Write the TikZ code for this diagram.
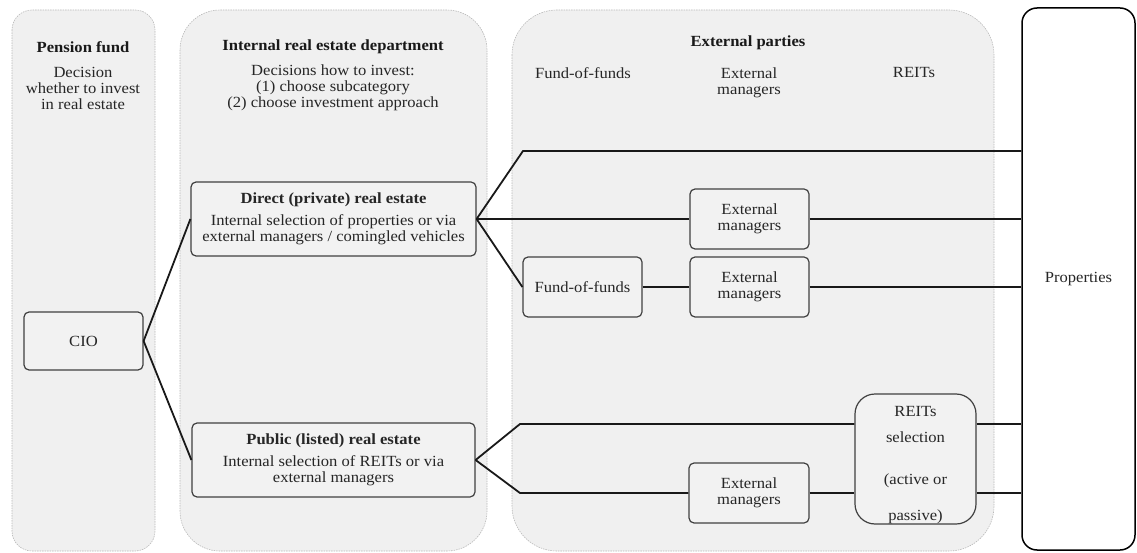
\documentclass[tikz,border=0pt]{standalone}
\usepackage{fontspec}
\setmainfont{Liberation Serif}[FakeStretch=1.07]
\newcommand\mainfs{\fontsize{15.5}{16}\selectfont}
\begin{document}
\begin{tikzpicture}[x=1pt,y=-1pt,
  panel/.style={draw=gray!55, dash pattern=on 1.5pt off 1pt, line width=0.6pt, fill=black!6},
  box/.style={draw=black!75, line width=1.2pt, rounded corners=5pt, fill=black!5, inner sep=0pt, align=center, text=black!85, font=\mainfs},
  txt/.style={align=center, inner sep=0pt, text=black!85, font=\mainfs},
  ttl/.style={align=center, inner sep=0pt, text=black!90, font=\mainfs\bfseries},
  link/.style={line width=1.8pt, black!90}]
\useasboundingbox (0,0) rectangle (1137,553);
% panels
\draw[panel, rounded corners=20pt] (12,10) rectangle (155,551);
\draw[panel, rounded corners=40pt] (180,10) rectangle (487,551);
\draw[panel, rounded corners=45pt] (512,10) rectangle (994,551);
% panel texts
\node[ttl] (pft) at (83,47) {Pension fund};
\node[txt] (pfd) at (83,88) {Decision\\whether to invest\\in real estate};
\node[ttl] (irt) at (333,47) {Internal real estate department};
\node[txt] (ird) at (333,88) {Decisions how to invest:\\(1) choose subcategory\\(2) choose investment approach};
\node[ttl] (ept) at (748,43) {External parties};
\node[txt] (h1) at (583,73) {Fund-of-funds};
\node[txt] (h2) at (749,83) {External\\managers};
\node[txt] (h3) at (914,73) {REITs};
% boxes
\node[box, minimum width=119pt, minimum height=58pt] (cio) at (83.5,341) {CIO};
\node[box, minimum width=285pt, minimum height=74pt] (direct) at (333.5,219)
  {\textbf{Direct (private) real estate}\\[6pt]Internal selection of properties or via\\external managers / comingled vehicles};
\node[box, minimum width=283pt, minimum height=74pt] (public) at (333.5,460)
  {\textbf{Public (listed) real estate}\\[6pt]Internal selection of REITs or via\\external managers};
\node[box, minimum width=119pt, minimum height=60pt] (fof) at (582.5,287) {Fund-of-funds};
\node[box, minimum width=119pt, minimum height=60pt] (em1) at (749.5,219) {External\\managers};
\node[box, minimum width=119pt, minimum height=60pt] (em2) at (749.5,287) {External\\managers};
\node[box, minimum width=120pt, minimum height=60pt] (em3) at (749,493) {External\\managers};
\node[box, rounded corners=20pt, minimum width=121pt, minimum height=130pt] (reits) at (915.5,459)
  {\mbox{}\\[4pt]\raisebox{-2pt}{REITs}\\[12pt]selection\\[26pt](active or\\[20pt]passive)};
\node[draw=black, line width=1.5pt, rounded corners=15pt, fill=white, inner sep=0pt,
  minimum width=113pt, minimum height=542pt, font=\mainfs, text=black!85] (props) at (1078.5,279)
  {\raisebox{-7pt}{Properties}};
% connectors
\coordinate (b1) at (523,151);
\coordinate (b2) at (520,424);
\coordinate (b3) at (520,493);
\draw[link] (cio.east) -- (direct.west);
\draw[link] (cio.east) -- (public.west);
\draw[link] (direct.east) -- (b1) -- (b1 -| props.west);
\draw[link] (direct.east) -- (em1.west);
\draw[link] (em1.east) -- (em1.east -| props.west);
\draw[link] (direct.east) -- (fof.west);
\draw[link] (fof.east) -- (em2.west);
\draw[link] (em2.east) -- (em2.east -| props.west);
\draw[link] (public.east) -- (b2) -- (b2 -| reits.west);
\draw[link] (reits.east |- b2) -- (b2 -| props.west);
\draw[link] (public.east) -- (b3) -- (em3.west);
\draw[link] (em3.east) -- (em3.east -| reits.west);
\draw[link] (reits.east |- b3) -- (b3 -| props.west);
\end{tikzpicture}
\end{document}
